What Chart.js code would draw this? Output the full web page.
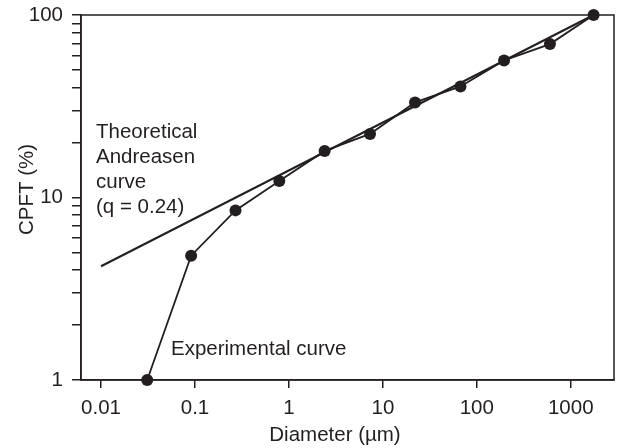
<!DOCTYPE html>
<html>
<head>
<meta charset="utf-8">
<script src="https://cdn.jsdelivr.net/npm/chart.js@4"></script>
<style>
  html, body { margin: 0; padding: 0; background: #ffffff; }
  #wrap { width: 621px; height: 448px; position: relative; }
</style>
</head>
<body>
<div id="wrap"><canvas id="c" width="621" height="448"></canvas></div>
<script>
// ---- data ----
const expDiameter = [0.031, 0.091, 0.27, 0.79, 2.4, 7.3, 22, 67, 195, 600, 1750];
const expCPFT     = [1.0, 4.8, 8.5, 12.3, 18.0, 22.3, 33.2, 40.6, 56.4, 69.3, 100];
const theoDiameter = [0.01, 1750];
const theoCPFT     = [4.2, 100];
const xTicks = [0.01, 0.1, 1, 10, 100, 1000];
const yTicks = [1, 2, 3, 4, 5, 6, 7, 8, 9, 10, 20, 30, 40, 50, 60, 70, 80, 90, 100];
const yLabelTicks = [1, 10, 100];
const xTitle = 'Diameter (µm)';
const yTitle = 'CPFT (%)';
const theoLabel = ['Theoretical', 'Andreasen', 'curve', '(q = 0.24)'];
const expLabel = 'Experimental curve';

const INK = '#231f20';
const FONT = '"Liberation Sans", Arial, Helvetica, sans-serif';
const FSIZE = 20.5;

const textPlugin = {
  id: 'textPlugin',
  afterDraw(chart) {
    const ctx = chart.ctx;
    const a = chart.chartArea;
    ctx.save();
    // full frame
    ctx.strokeStyle = INK;
    ctx.lineWidth = 1.5;
    ctx.strokeRect(a.left, a.top, a.right - a.left, a.bottom - a.top);
    ctx.fillStyle = INK;
    ctx.font = FSIZE + 'px ' + FONT;
    ctx.textAlign = 'left';
    ctx.textBaseline = 'alphabetic';
    theoLabel.forEach((t, i) => ctx.fillText(t, 96, 138 + i * 25));
    ctx.fillText(expLabel, 171, 355);
    // x title
    ctx.textAlign = 'center';
    ctx.fillText(xTitle, 335, 441);
    // y title
    ctx.translate(33, 189.5);
    ctx.rotate(-Math.PI / 2);
    ctx.fillText(yTitle, 0, 0);
    ctx.restore();
  }
};

new Chart(document.getElementById('c'), {
  type: 'line',
  data: {
    datasets: [
      {
        label: 'Theoretical Andreasen curve',
        data: theoDiameter.map((d, i) => ({ x: d, y: theoCPFT[i] })),
        borderColor: INK,
        borderWidth: 2,
        pointRadius: 0,
        tension: 0,
        clip: false
      },
      {
        label: 'Experimental curve',
        data: expDiameter.map((d, i) => ({ x: d, y: expCPFT[i] })),
        borderColor: INK,
        backgroundColor: INK,
        borderWidth: 1.8,
        pointRadius: 6,
        pointBackgroundColor: INK,
        pointBorderWidth: 0,
        tension: 0,
        clip: false
      }
    ]
  },
  options: {
    responsive: false,
    animation: false,
    devicePixelRatio: 1,
    layout: { padding: { top: 15, right: 7, left: 0, bottom: 0 } },
    plugins: { legend: { display: false }, tooltip: { enabled: false } },
    scales: {
      x: {
        type: 'logarithmic',
        min: 0.00612,
        max: 2885,
        afterBuildTicks: s => { s.ticks = xTicks.map(v => ({ value: v })); },
        afterFit: s => { s.height = 68; s.paddingLeft = 0; s.paddingRight = 0; },
        grid: { display: true, drawOnChartArea: false, drawTicks: true, tickLength: 8, color: INK, lineWidth: 1.5 },
        border: { display: true, color: INK, width: 1.5 },
        ticks: {
          autoSkip: false, maxRotation: 0, padding: 8, color: INK,
          font: { family: FONT, size: FSIZE },
          callback: v => String(v)
        }
      },
      y: {
        type: 'logarithmic',
        min: 1,
        max: 100,
        afterBuildTicks: s => { s.ticks = yTicks.map(v => ({ value: v })); },
        afterFit: s => { s.width = 81; s.paddingTop = 0; s.paddingBottom = 0; },
        grid: { display: true, drawOnChartArea: false, drawTicks: true, tickLength: 9, color: INK, lineWidth: 1.5 },
        border: { display: true, color: INK, width: 1.5 },
        ticks: {
          autoSkip: false, padding: 9, color: INK,
          font: { family: FONT, size: FSIZE },
          callback: v => yLabelTicks.includes(v) ? String(v) : ''
        }
      }
    }
  },
  plugins: [textPlugin]
});
</script>
</body>
</html>
